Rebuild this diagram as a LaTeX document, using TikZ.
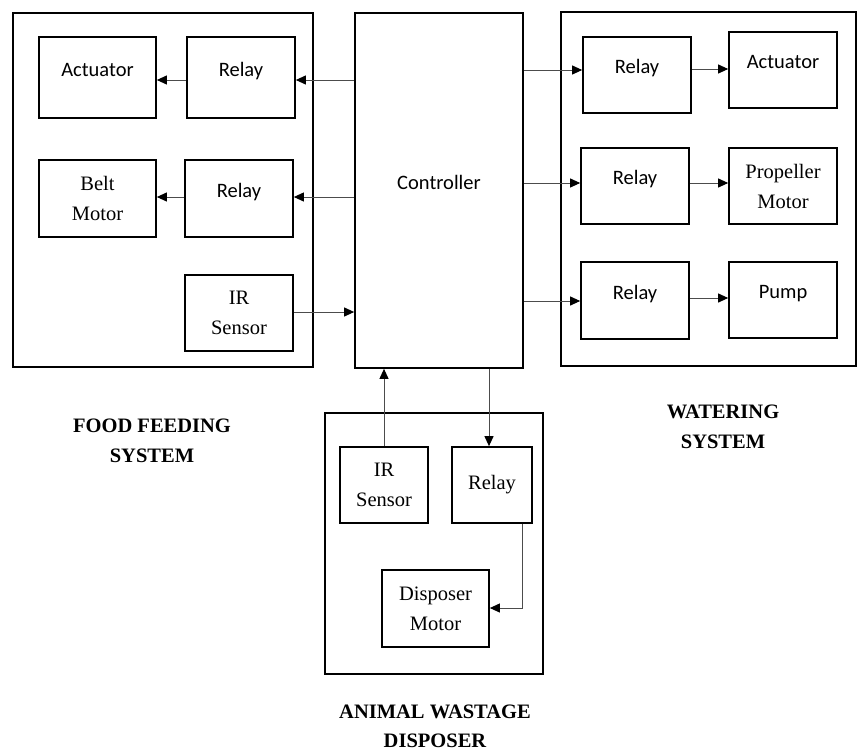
\documentclass[tikz,border=0pt]{standalone}
\usepackage{fontspec}
\setmainfont{Liberation Serif}
\newfontfamily\calibrifont{Carlito}
\usetikzlibrary{arrows.meta}
\begin{document}
\begin{tikzpicture}[x=1pt,y=-1pt,
  boxnode/.style={draw=black, line width=1.7pt, inner sep=0pt, fill=none},
  sanst/.style={font=\calibrifont\fontsize{20.5}{24}\selectfont, text height=14pt, text depth=17pt},
  serift/.style={font=\fontsize{20.5}{30}\selectfont, align=center},
  grouplabel/.style={font=\bfseries\fontsize{20.5}{30}\selectfont, align=center},
  arr/.style={draw=black!70, line width=1pt, -{Triangle[length=10pt,width=9pt,color=black]}}
]
\useasboundingbox (0,0) rectangle (858,755);

% Food feeding system
\node[boxnode, minimum width=300pt, minimum height=354pt] (food) at (163,190) {};
\node[boxnode, sanst, minimum width=117pt, minimum height=81pt] (actf) at (97.5,77.5) {Actuator};
\node[boxnode, sanst, minimum width=108pt, minimum height=81pt] (relf1) at (241,77.5) {Relay};
\node[boxnode, serift, minimum width=117pt, minimum height=77pt] (belt) at (97.5,198.5) {Belt\\Motor};
\node[boxnode, sanst, minimum width=108pt, minimum height=77pt] (relf2) at (239,198.5) {Relay};
\node[boxnode, serift, minimum width=108pt, minimum height=76pt] (irf) at (239,313) {IR\\Sensor};

% Controller
\node[boxnode, sanst, minimum width=168pt, minimum height=355pt] (ctrl) at (439,190.5) {Controller};

% Watering system
\node[boxnode, minimum width=295pt, minimum height=354pt] (water) at (708.5,189) {};
\node[boxnode, sanst, minimum width=108pt, minimum height=76pt] (relw1) at (637,75) {Relay};
\node[boxnode, sanst, minimum width=108pt, minimum height=76pt] (actw) at (783,70) {Actuator};
\node[boxnode, sanst, minimum width=108pt, minimum height=76pt] (relw2) at (635,186) {Relay};
\node[boxnode, serift, minimum width=108pt, minimum height=76pt] (prop) at (783,186) {Propeller\\Motor};
\node[boxnode, sanst, minimum width=108pt, minimum height=77pt] (relw3) at (635,300.5) {Relay};
\node[boxnode, sanst, minimum width=108pt, minimum height=76pt] (pump) at (783,300) {Pump};

% Animal wastage disposer
\node[boxnode, minimum width=218pt, minimum height=261pt] (disp) at (434,543.5) {};
\node[boxnode, serift, minimum width=88pt, minimum height=76pt] (ird) at (384,485) {IR\\Sensor};
\node[boxnode, serift, minimum width=80pt, minimum height=76pt] (reld) at (492,485) {Relay};
\node[boxnode, serift, minimum width=107pt, minimum height=77pt] (dmot) at (435.5,608.5) {Disposer\\Motor};

% Group labels
\node[grouplabel] (lfood) at (152,441) {FOOD FEEDING\\SYSTEM};
\node[grouplabel] (lwater) at (723,427) {WATERING\\SYSTEM};
\node[grouplabel, font=\bfseries\fontsize{20.5}{29}\selectfont] (ldisp) at (435,726) {ANIMAL WASTAGE\\DISPOSER};

% Connectors: food feeding
\draw[arr] (ctrl.west |- 0,80) -- (relf1.east |- 0,80);
\draw[arr] (relf1.west |- 0,80) -- (actf.east |- 0,80);
\draw[arr] (ctrl.west |- 0,197) -- (relf2.east |- 0,197);
\draw[arr] (relf2.west |- 0,197) -- (belt.east |- 0,197);
\draw[arr] (irf.east |- 0,312) -- (ctrl.west |- 0,312);

% Connectors: watering
\draw[arr] (ctrl.east |- 0,70) -- (relw1.west |- 0,70);
\draw[arr] (relw1.east |- 0,69) -- (actw.west |- 0,69);
\draw[arr] (ctrl.east |- 0,183) -- (relw2.west |- 0,183);
\draw[arr] (relw2.east |- 0,183) -- (prop.west |- 0,183);
\draw[arr] (ctrl.east |- 0,301) -- (relw3.west |- 0,301);
\draw[arr] (relw3.east |- 0,298) -- (pump.west |- 0,298);

% Connectors: disposer
\draw[arr] (ird.north) -- (ird.north |- ctrl.south);
\draw[arr] (ctrl.south -| 489,0) -- (reld.north -| 489,0);
\draw[arr] (reld.south -| 522,0) -- (522,608) -- (dmot.east |- 0,608);
\end{tikzpicture}
\end{document}
